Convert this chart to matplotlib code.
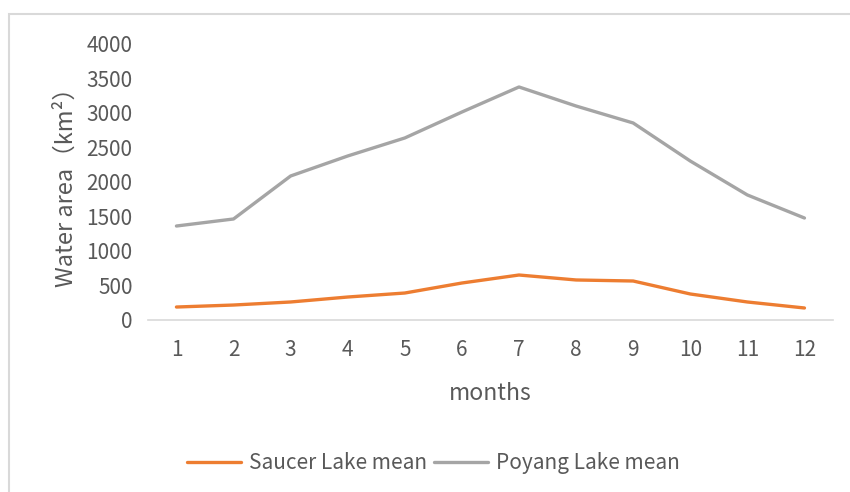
import matplotlib.pyplot as plt
from matplotlib.patches import Rectangle

plt.rcParams['font.family'] = ['Noto Sans CJK SC', 'DejaVu Sans']

months = [1, 2, 3, 4, 5, 6, 7, 8, 9, 10, 11, 12]
saucer_mean = [188, 217, 261, 333, 391, 536, 652, 580, 565, 377, 261, 174]
poyang_mean = [1362, 1464, 2087, 2377, 2638, 3014, 3377, 3101, 2855, 2304, 1812, 1478]

text_color = '#595959'

fig = plt.figure(figsize=(8.5, 4.92), dpi=100)
ax = fig.add_axes([0.174, 0.3496, 0.806, 0.561])

ax.plot(months, saucer_mean, color='#ED7D31', lw=2.4, label='Saucer Lake mean',
        solid_capstyle='round')
ax.plot(months, poyang_mean, color='#A5A5A5', lw=2.4, label='Poyang Lake mean',
        solid_capstyle='round')

ax.set_xlim(0.5, 12.5)
ax.set_ylim(0, 4000)
ax.set_xticks(months)
ax.set_yticks(range(0, 4001, 500))
ax.tick_params(length=0, labelsize=15, colors=text_color)
ax.tick_params(axis='x', pad=14)
ax.tick_params(axis='y', pad=11)

for s in ['top', 'right', 'left']:
    ax.spines[s].set_visible(False)
ax.spines['bottom'].set_color('#d9d9d9')
ax.spines['bottom'].set_linewidth(1.2)

ax.set_xlabel('months', fontsize=16.5, color=text_color, labelpad=15)
ax.set_ylabel('Water area（km²）', fontsize=17, color=text_color, labelpad=6)

fig.legend(loc='center', bbox_to_anchor=(0.51, 0.059), ncol=2, frameon=False,
           fontsize=15, labelcolor=text_color, handlelength=2.6,
           columnspacing=0.3, handletextpad=0.4)

# outer chart frame, cut at right and bottom
fig.patches.append(Rectangle((9 / 850, -0.1), 1.2, 1.1 - 14 / 492,
                             transform=fig.transFigure, fill=False,
                             edgecolor='#d9d9d9', lw=1.5))

fig.savefig('out.png', dpi=100, facecolor='white')
